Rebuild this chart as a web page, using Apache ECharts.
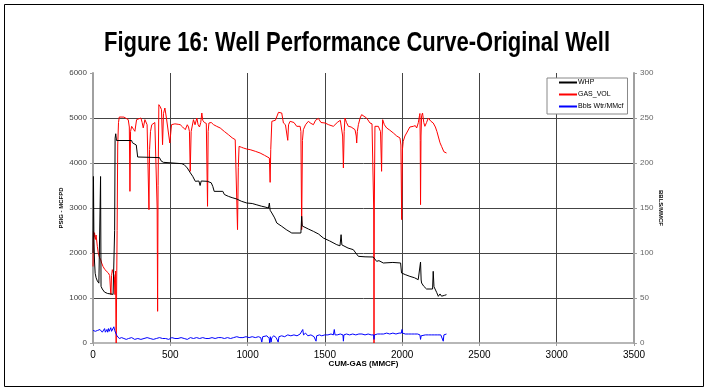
<!DOCTYPE html>
<html>
<head>
<meta charset="utf-8">
<script src="https://cdn.jsdelivr.net/npm/echarts@6/dist/echarts.min.js"></script>
<style>html,body{margin:0;padding:0;background:#fff;}#c{width:709px;height:392px;}</style>
</head>
<body>
<div id="c"></div>
<script>
const titleText = "Figure 16: Well Performance Curve-Original Well";
const seriesNames = ["WHP", "GAS_VOL", "Bbls Wtr/MMcf"];
const seriesColors = ["#000000", "#ff0000", "#0000ff"];
const xTicks = [0, 500, 1000, 1500, 2000, 2500, 3000, 3500];

// WHP (PSIG) vs CUM-GAS (MMCF)
const whp = [[0,2000],[3,3700],[6,2300],[10,1800],[14,1550],[20,1450],[28,1380],[38,1330],[46,1300],[49,3700],[52,1260],[60,1200],[75,1130],[95,1100],[115,1090],[130,1080],[138,1050],[140,2500],[143,4550],[147,4650],[152,4500],[160,4520],[250,4500],[255,4450],[262,4407],[280,4400],[289,4133],[430,4120],[440,4050],[455,4015],[575,3985],[590,3963],[610,3889],[630,3780],[645,3704],[662,3593],[685,3600],[693,3500],[700,3600],[740,3593],[765,3560],[775,3480],[784,3370],[840,3370],[850,3300],[876,3259],[900,3230],[930,3200],[960,3150],[995,3111],[1030,3100],[1060,3070],[1090,3040],[1113,3022],[1135,3000],[1141,3110],[1146,2950],[1157,2889],[1175,2780],[1189,2667],[1221,2593],[1250,2520],[1286,2444],[1345,2444],[1350,2815],[1354,2600],[1361,2556],[1395,2530],[1426,2481],[1460,2420],[1490,2333],[1530,2270],[1577,2185],[1598,2160],[1605,2407],[1610,2180],[1620,2148],[1650,2110],[1684,2074],[1700,2000],[1717,1926],[1760,1915],[1813,1911],[1824,1880],[1835,1815],[1850,1830],[1878,1778],[1940,1790],[1990,1778],[1996,1556],[2020,1520],[2050,1481],[2080,1450],[2104,1407],[2115,1420],[2119,1800],[2123,1400],[2126,1333],[2140,1260],[2158,1200],[2197,1200],[2201,1593],[2206,1250],[2223,1126],[2234,1037],[2245,1090],[2255,1040],[2265,1080],[2275,1060],[2287,1074]];

// GAS_VOL (MCFPD) vs CUM-GAS (MMCF)
const gasVol = [[0,1700],[3,2480],[6,2350],[10,2450],[15,2300],[20,2400],[28,2150],[34,2000],[42,1900],[50,1850],[56,1778],[65,1700],[77,1630],[88,1600],[99,1556],[108,1500],[113,1200],[116,1074],[120,1500],[125,1630],[132,1550],[138,1481],[142,1074],[146,1600],[148,600],[150,0],[153,0],[156,2500],[160,4400],[165,4900],[170,5022],[200,5020],[228,4963],[235,4800],[239,3370],[243,4700],[250,4815],[262,4750],[271,4704],[282,4963],[293,4926],[310,5000],[318,4900],[325,4780],[336,4963],[350,4850],[357,4815],[362,2963],[366,4300],[372,4700],[380,4850],[390,4815],[400,4900],[411,4889],[415,3000],[418,704],[421,3500],[426,5296],[435,5250],[443,5185],[450,4407],[456,5100],[465,5222],[475,5000],[487,4963],[497,4444],[508,4852],[530,4870],[551,4860],[564,4852],[580,4800],[597,4741],[610,4850],[618,4800],[624,4700],[629,3815],[635,4700],[650,4963],[660,4850],[672,5000],[680,4850],[689,4800],[697,4900],[704,5111],[710,4950],[720,4900],[733,4880],[741,3037],[745,4700],[750,4889],[765,4900],[780,4852],[800,4815],[823,4778],[850,4700],[876,4630],[900,4560],[920,4519],[930,4480],[935,2519],[940,3900],[945,4370],[960,4350],[973,4333],[995,4310],[1017,4296],[1050,4260],[1081,4222],[1110,4170],[1141,4111],[1146,3570],[1150,4300],[1157,4926],[1167,4963],[1180,4950],[1200,5126],[1210,5110],[1221,5111],[1232,4889],[1245,4850],[1255,4815],[1260,4504],[1265,4850],[1275,4926],[1286,4963],[1300,4900],[1318,4815],[1330,4830],[1340,4815],[1345,4700],[1350,2519],[1355,4500],[1361,4741],[1375,4850],[1393,4926],[1410,4880],[1426,4852],[1440,4950],[1458,4990],[1475,4900],[1501,4889],[1525,4850],[1555,4815],[1580,4900],[1600,4950],[1609,4990],[1615,4600],[1620,3889],[1625,4700],[1630,5000],[1640,4900],[1652,4815],[1670,4800],[1695,4741],[1703,4600],[1706,4444],[1710,4700],[1717,4852],[1728,5000],[1738,5074],[1750,5040],[1770,5000],[1792,4889],[1805,4870],[1813,4852],[1816,3000],[1818,0],[1820,3000],[1824,4815],[1846,4815],[1860,4700],[1867,3815],[1870,4600],[1874,4963],[1885,4850],[1900,4778],[1920,4730],[1943,4667],[1965,4600],[1986,4556],[1992,4400],[1997,2741],[2002,4300],[2007,4481],[2018,4600],[2029,4667],[2050,4800],[2072,4815],[2085,4830],[2094,4778],[2105,4900],[2112,5050],[2115,5100],[2117,4500],[2119,3074],[2122,4600],[2126,5050],[2132,5111],[2140,4900],[2147,4815],[2158,4900],[2169,5000],[2185,4930],[2201,4889],[2215,4800],[2225,4700],[2234,4667],[2245,4450],[2255,4370],[2270,4250],[2287,4222]];

// Bbls Wtr/MMcf (right axis) vs CUM-GAS (MMCF)
const water = [[0,14],[5,12],[10,16],[15,13],[20,15],[25,11],[30,14],[35,16],[40,12],[45,15],[50,13],[55,17],[60,12],[65,14],[70,13],[75,16],[80,12],[85,14],[90,15],[95,12],[100,16],[105,13],[110,14],[115,17],[120,13],[125,15],[130,12],[135,18],[140,14],[145,16],[150,13],[155,8],[160,6],[170,5],[185,6],[200,5],[215,4],[230,5],[250,6],[270,4],[290,5],[310,4],[330,5],[350,6],[370,5],[390,4],[410,5],[430,6],[450,5],[470,5],[490,4],[510,6],[530,5],[550,5],[570,6],[590,5],[610,4],[630,6],[650,5],[670,6],[690,5],[710,6],[730,5],[750,5],[770,6],[790,5],[810,6],[830,6],[850,5],[870,6],[890,5],[910,6],[930,7],[950,6],[970,6],[990,7],[1010,6],[1030,7],[1050,6],[1070,7],[1085,6],[1092,1],[1098,7],[1110,6],[1125,8],[1140,5],[1143,0],[1147,7],[1152,1],[1157,6],[1170,8],[1185,6],[1198,1],[1203,7],[1220,8],[1240,7],[1260,9],[1280,8],[1300,9],[1320,8],[1340,10],[1350,12],[1357,15],[1362,9],[1375,11],[1390,8],[1410,9],[1430,7],[1443,2],[1447,8],[1465,9],[1480,8],[1500,9],[1520,9],[1540,10],[1555,9],[1561,15],[1566,9],[1580,9],[1600,10],[1617,9],[1620,2],[1623,9],[1640,10],[1660,9],[1680,10],[1700,9],[1720,10],[1740,10],[1760,9],[1780,10],[1800,9],[1815,9],[1818,4],[1821,9],[1840,10],[1860,10],[1880,10],[1900,11],[1920,10],[1940,11],[1960,10],[1980,11],[1995,11],[1999,15],[2003,11],[2020,10],[2040,10],[2060,10],[2080,10],[2100,10],[2115,9],[2119,4],[2123,8],[2135,10],[2150,9],[2170,9],[2190,9],[2210,9],[2230,9],[2250,9],[2262,9],[2266,2],[2270,9],[2280,9],[2287,10]];

const chart = echarts.init(document.getElementById('c'), null, {renderer: 'canvas'});
const gridCol = '#444';
const axisGray = '#a0a0a0';
const plain = v => String(v);
chart.setOption({
  animation: false,
  backgroundColor: '#fff',
  color: seriesColors,
  textStyle: {fontFamily: 'Liberation Sans, Arial, sans-serif'},
  graphic: [
    {type: 'rect', shape: {x: 4.5, y: 4.5, width: 699, height: 382}, style: {fill: 'none', stroke: '#000', lineWidth: 1}, silent: true},
    {type: 'text', x: 357, y: 43, scaleX: 0.785, silent: true,
     style: {text: titleText, font: 'bold 28px "Liberation Sans", Arial, sans-serif', textAlign: 'center', textVerticalAlign: 'middle', fill: '#000'}}
  ],
  legend: {
    orient: 'vertical', left: 547, top: 78,
    data: seriesNames.map((n, i) => ({name: n, icon: 'rect', itemStyle: {color: seriesColors[i], borderWidth: 0}})),
    itemWidth: 18, itemHeight: 2, itemGap: 3,
    padding: [0, 4, 3, 12],
    borderColor: '#888', borderWidth: 1, backgroundColor: '#fff',
    textStyle: {fontSize: 7, color: '#000', padding: [0, 0, 0, -4], lineHeight: 9}
  },
  grid: {left: 93, right: 75, top: 73, bottom: 49, containLabel: false},
  xAxis: {
    type: 'value', min: xTicks[0], max: xTicks[xTicks.length - 1], interval: 500,
    name: 'CUM-GAS (MMCF)', nameLocation: 'middle', nameGap: 17, nameMoveOverlap: false,
    nameTextStyle: {fontSize: 8, fontWeight: 'bold', color: '#000'},
    axisLine: {show: true, onZero: false, lineStyle: {color: axisGray, width: 1.5}},
    axisTick: {show: true, length: 3, lineStyle: {color: axisGray}},
    axisLabel: {fontSize: 10, color: '#000', margin: 7, formatter: plain},
    splitLine: {show: true, showMinLine: false, showMaxLine: false, lineStyle: {color: gridCol, width: 1}}
  },
  yAxis: [{
    type: 'value', min: 0, max: 6000, interval: 1000, position: 'left',
    name: 'PSIG - MCFPD', nameLocation: 'middle', nameGap: 29, nameRotate: 90, nameMoveOverlap: false,
    nameTextStyle: {fontSize: 6, fontWeight: 'bold', color: '#000'},
    axisLine: {show: true, lineStyle: {color: axisGray, width: 2}},
    axisTick: {show: true, length: 3, lineStyle: {color: axisGray}},
    axisLabel: {fontSize: 8, color: '#444', margin: 6, formatter: plain},
    splitLine: {show: true, showMaxLine: false, showMinLine: false, lineStyle: {color: gridCol, width: 1}}
  }, {
    type: 'value', min: 0, max: 300, interval: 50, position: 'right',
    name: 'BBLS/MMCF', nameLocation: 'middle', nameGap: 24, nameRotate: -90, nameMoveOverlap: false,
    nameTextStyle: {fontSize: 6, fontWeight: 'bold', color: '#000'},
    axisLine: {show: true, lineStyle: {color: axisGray, width: 2}},
    axisTick: {show: true, length: 3, lineStyle: {color: axisGray}},
    axisLabel: {fontSize: 8, color: '#666', margin: 6, formatter: plain},
    splitLine: {show: false}
  }],
  series: [
    {name: seriesNames[0], type: 'line', yAxisIndex: 0, data: whp, showSymbol: false, symbol: 'none', itemStyle: {color: seriesColors[0]}, lineStyle: {color: seriesColors[0], width: 1}, z: 3},
    {name: seriesNames[1], type: 'line', yAxisIndex: 0, data: gasVol, showSymbol: false, symbol: 'none', itemStyle: {color: seriesColors[1]}, lineStyle: {color: seriesColors[1], width: 1}, z: 2},
    {name: seriesNames[2], type: 'line', yAxisIndex: 1, data: water, showSymbol: false, symbol: 'none', itemStyle: {color: seriesColors[2]}, lineStyle: {color: seriesColors[2], width: 1}, z: 4}
  ]
});
</script>
</body>
</html>
